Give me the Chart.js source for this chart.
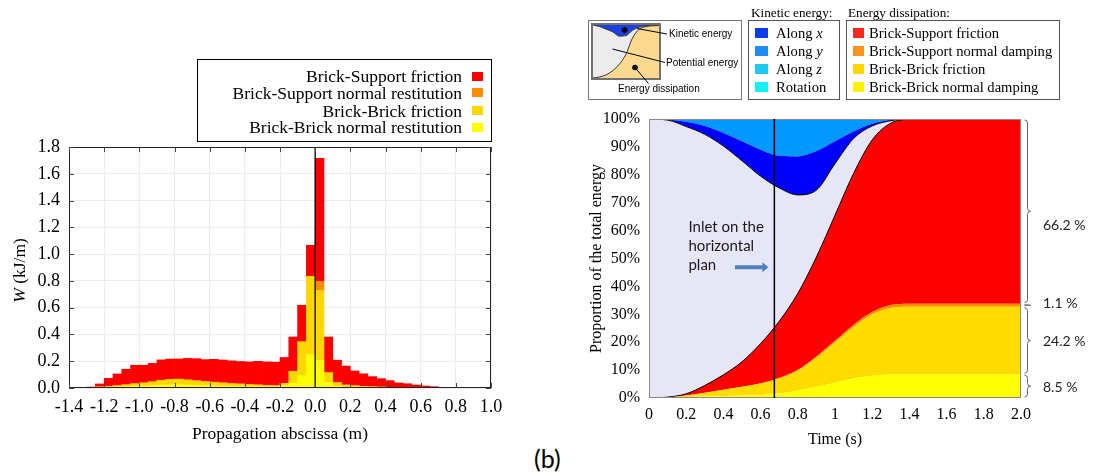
<!DOCTYPE html>
<html><head><meta charset="utf-8">
<script src="https://cdn.jsdelivr.net/npm/chart.js@4.4.1/dist/chart.umd.min.js"></script>
<style>
html,body{margin:0;padding:0;background:#fff;}
body{width:1094px;height:472px;position:relative;overflow:hidden;font-family:"Liberation Serif","Times New Roman",serif;color:#000;}
.a{position:absolute;white-space:nowrap;}
.box{position:absolute;box-sizing:border-box;}
.sw{position:absolute;}
</style></head><body>
<canvas id="c1" width="520" height="320" style="position:absolute;left:0;top:130px;width:520px;height:320px"></canvas>
<canvas id="c2" width="519" height="350" style="position:absolute;left:575px;top:105px;width:519px;height:350px"></canvas>

<div id="leg1" class="box" style="left:197px;top:59px;width:295px;height:83px;border:1px solid #000;"></div>

<div class="box" style="left:588px;top:20px;width:154px;height:80px;border:1px solid #777;"></div>
<div style="position:absolute;left:591px;top:23px;width:66px;height:53px;border:2px solid #707070;">
  <canvas id="c3" width="66" height="53" style="display:block;width:66px;height:53px"></canvas>
</div>
<svg width="1094" height="110" style="position:absolute;left:0;top:0;pointer-events:none">
  <circle cx="624.5" cy="30" r="2.8" fill="#000"/>
  <line x1="637" y1="28.5" x2="667" y2="34" stroke="#000" stroke-width="1"/>
  <line x1="612.5" y1="49" x2="665" y2="62.5" stroke="#000" stroke-width="1"/>
  <circle cx="635" cy="67.5" r="2.8" fill="#000"/>
  <line x1="635" y1="67.5" x2="648.5" y2="83.5" stroke="#000" stroke-width="1"/>
</svg>
<div class="a" style="left:669px;top:27px;font:10px 'Liberation Sans',Arial,sans-serif;line-height:14px;">Kinetic energy</div>
<div class="a" style="left:666px;top:56px;font:10px 'Liberation Sans',Arial,sans-serif;line-height:14px;">Potential energy</div>
<div class="a" style="left:618px;top:82px;font:10px 'Liberation Sans',Arial,sans-serif;line-height:14px;">Energy dissipation</div>

<div class="a" style="left:751px;top:5px;font-size:13.2px;line-height:16px;">Kinetic energy:</div>
<div id="leg2" class="box" style="left:748px;top:20px;width:92px;height:80px;border:1px solid #555;"></div>
<div class="a" style="left:848px;top:5px;font-size:13.2px;line-height:16px;">Energy dissipation:</div>
<div id="leg3" class="box" style="left:846px;top:20px;width:214px;height:80px;border:1px solid #555;"></div>

<div class="a" style="left:534px;top:442px;font:25px Lato,'Open Sans',sans-serif;line-height:32px;">(b)</div>

<script>
// ---------------- Left chart data (W per 0.05 m bin) ----------------
const binCenters = [-1.375,-1.325,-1.275,-1.225,-1.175,-1.125,-1.075,-1.025,-0.975,-0.925,-0.875,-0.825,
  -0.775,-0.725,-0.675,-0.625,-0.575,-0.525,-0.475,-0.425,-0.375,-0.325,-0.275,-0.225,
  -0.175,-0.125,-0.075,-0.025,0.025,0.075,0.125,0.175,0.225,0.275,0.325,0.375,
  0.425,0.475,0.525,0.575,0.625,0.675,0.725,0.775,0.825,0.875,0.925,0.975];
const bbNormalRest = [0,0,0.001,0.003,0.005,0.007,0.010,0.013,0.015,0.018,0.022,0.025,
  0.025,0.023,0.020,0.018,0.016,0.014,0.012,0.011,0.010,0.009,0.008,0.008,
  0.017,0.037,0.092,0.249,0.207,0.042,0.012,0.007,0.005,0.004,0.003,0.002,
  0.002,0.001,0.001,0.001,0,0,0,0,0,0,0,0];
const bbFriction = [0,0,0.002,0.005,0.007,0.011,0.014,0.019,0.023,0.028,0.036,0.040,
  0.041,0.037,0.034,0.030,0.027,0.024,0.021,0.019,0.016,0.014,0.012,0.010,
  0.018,0.088,0.253,0.585,0.523,0.073,0.028,0.015,0.012,0.008,0.006,0.005,
  0.003,0.003,0.002,0.001,0.001,0.001,0,0,0,0,0,0];
const bsNormalRest = [0,0,0,0,0,0,0,0,0,0,0,0,
  0,0,0,0,0,0,0,0,0,0,0,0,
  0,0,0,0,0.067,0,0,0,0,0,0,0,
  0,0,0,0,0,0,0,0,0,0,0,0];
const bsFriction = [0,0,0.004,0.022,0.060,0.087,0.116,0.138,0.132,0.138,0.152,0.151,
  0.151,0.161,0.165,0.164,0.171,0.171,0.170,0.168,0.169,0.176,0.175,0.175,
  0.193,0.256,0.273,0.232,0.919,0.266,0.168,0.142,0.110,0.094,0.076,0.063,
  0.050,0.034,0.029,0.020,0.014,0.009,0.005,0.002,0,0,0,0];
const leftNames = ['Brick-Support friction','Brick-Support normal restitution','Brick-Brick friction','Brick-Brick normal restitution'];
const leftColors = ['#FF0000','#FF8C00','#FFD700','#FFFF00'];
const xTickLabels = ['-1.4','-1.2','-1.0','-0.8','-0.6','-0.4','-0.2','0.0','0.2','0.4','0.6','0.8','1.0'];
const yTickLabels = ['0.0','0.2','0.4','0.6','0.8','1.0','1.2','1.4','1.6','1.8'];

// ---------------- Right chart data (% of total energy) ----------------
const timeS = [0,0.1,0.2,0.3,0.4,0.5,0.6,0.7,0.8,0.9,1.0,1.1,1.2,1.3,1.4,1.5,1.75,2.0];
const eBBNormal   = [0,0.05,0.25,0.5,0.7,0.9,1.1,1.6,2.7,4.0,5.5,7.0,8.0,8.4,8.5,8.5,8.5,8.5];
const eBBFriction = [0,0.15,0.65,1.4,2.3,3.1,4.1,5.4,7.1,10.5,14.5,18.5,22.0,23.9,24.2,24.2,24.2,24.2];
const eBSNormal   = [0,0,0,0,0,0,0.1,0.2,0.3,0.4,0.5,0.7,0.8,1.0,1.1,1.1,1.1,1.1];
const eBSFriction = [0,0.1,0.6,2.6,5.3,9.0,14.2,20.3,27.4,35.6,45.0,54.3,61.7,65.2,66.1,66.2,66.2,66.2];
const ePotential  = [100,99.3,95.8,90.0,82.0,72.0,60.0,47.8,35.3,24.0,18.5,12.5,5.0,0.9,0.1,0,0,0];
const eAlongX     = [0,0.2,1.7,3.0,4.7,7.0,9.5,11.5,13.8,14.0,8.0,2.5,0.8,0.2,0,0,0,0];
const eAlongY     = [0,0.2,1.0,2.5,5.0,8.0,11.0,13.2,13.4,11.5,8.0,4.5,1.7,0.4,0,0,0,0];
const eAlongZ     = [0,0,0,0,0,0,0,0,0,0,0,0,0,0,0,0,0,0];
const eRotation   = [0,0,0,0,0,0,0,0,0,0,0,0,0,0,0,0,0,0];
const tTickLabels = ['0','0.2','0.4','0.6','0.8','1','1.2','1.4','1.6','1.8','2.0'];
const pTickLabels = ['0%','10%','20%','30%','40%','50%','60%','70%','80%','90%','100%'];
const kinNames = ['Along x','Along y','Along z','Rotation'];
const kinLegendColors = ['#0C3CEB','#1E8FF0','#1EC8F0','#14F0F0'];
const dissNames = ['Brick-Support friction','Brick-Support normal damping','Brick-Brick friction','Brick-Brick normal damping'];
const dissLegendColors = ['#F42A1C','#F7931E','#FFD500','#FFF200'];
const inletTime = 0.674;
const braceTops = [100,33.8,32.7,8.5];
const braceBottoms = [33.8,32.7,8.5,0];
const braceLabels = ['66.2 %','1.1 %','24.2 %','8.5 %'];
const braceLabelLevels = [62.0,33.8,20.2,3.7];
const inletLines = ['Inlet on the','horizontal','plan'];
const inletTextTime = 0.212;
const inletTextLevels = [61.4,54.6,47.5];
const arrowFrom = 0.462, arrowTo = 0.642, arrowLevel = 46.9;

// ---------------- Inset schematic ----------------
const insetX = [0,0.1,0.2,0.3,0.4,0.5,0.6,0.7,0.8,0.9,1.0];
const insetDiss = [0,0.02,0.06,0.14,0.26,0.45,0.76,0.92,0.97,0.985,0.99];
const insetPot  = [1,0.95,0.86,0.73,0.53,0.35,0.14,0.04,0.01,0.005,0];
const insetKin  = [0,0.03,0.08,0.13,0.21,0.20,0.10,0.04,0.02,0.01,0.01];

// ---------------- HTML legends ----------------
(function(){
  const l1 = document.getElementById('leg1');
  const rows = [16.7,33.3,51,67.7];
  leftNames.forEach((n,i)=>{
    const t = document.createElement('div');
    t.className='a'; t.textContent=n;
    t.style.cssText += `right:29px;top:${rows[i]-10.5}px;font-size:17.5px;line-height:21px;`;
    l1.appendChild(t);
    const s = document.createElement('div');
    s.className='sw'; s.style.cssText=`left:274px;top:${rows[i]-5}px;width:11px;height:9px;background:${leftColors[i]};`;
    l1.appendChild(s);
  });
  const rows2 = [12,30,47.5,65.5];
  const l2 = document.getElementById('leg2');
  kinNames.forEach((n,i)=>{
    const t = document.createElement('div');
    t.className='a';
    if (n.startsWith('Along ')) t.innerHTML = 'Along <i>'+n.slice(6)+'</i>'; else t.textContent = n;
    t.style.cssText += `left:27px;top:${rows2[i]-9}px;font-size:14.6px;line-height:18px;`;
    l2.appendChild(t);
    const s = document.createElement('div');
    s.className='sw'; s.style.cssText=`left:6px;top:${rows2[i]-5}px;width:13px;height:10px;background:${kinLegendColors[i]};`;
    l2.appendChild(s);
  });
  const l3 = document.getElementById('leg3');
  dissNames.forEach((n,i)=>{
    const t = document.createElement('div');
    t.className='a'; t.textContent=n;
    t.style.cssText += `left:22px;top:${rows2[i]-9}px;font-size:14.6px;line-height:18px;`;
    l3.appendChild(t);
    const s = document.createElement('div');
    s.className='sw'; s.style.cssText=`left:6px;top:${rows2[i]-5}px;width:11px;height:10px;background:${dissLegendColors[i]};`;
    l3.appendChild(s);
  });
})();

// ---------------- Left chart ----------------
const pts = arr => arr.map((v,i)=>({x: binCenters[i], y: v}));
const leftDecor = {
  id:'leftDecor',
  afterDatasetsDraw(chart){
    const {ctx, chartArea:ca, scales:{x,y}} = chart;
    ctx.save();
    const x0 = x.getPixelForValue(0);
    ctx.strokeStyle='#000'; ctx.lineWidth=1.3;
    ctx.beginPath(); ctx.moveTo(x0, ca.top); ctx.lineTo(x0, ca.bottom); ctx.stroke();
    ctx.strokeStyle='#222'; ctx.lineWidth=1;
    ctx.strokeRect(ca.left+0.5, ca.top+0.5, ca.right-ca.left-1, ca.bottom-ca.top-1);
    ctx.strokeStyle='#444';
    ctx.beginPath();
    x.ticks.forEach(t=>{ const p=Math.round(x.getPixelForValue(t.value))+0.5;
      ctx.moveTo(p, ca.bottom); ctx.lineTo(p, ca.bottom-5); ctx.moveTo(p, ca.top); ctx.lineTo(p, ca.top+5); });
    y.ticks.forEach(t=>{ const p=Math.round(y.getPixelForValue(t.value))+0.5;
      ctx.moveTo(ca.left, p); ctx.lineTo(ca.left+5, p); ctx.moveTo(ca.right, p); ctx.lineTo(ca.right-5, p); });
    ctx.stroke();
    const cy = (ca.top+ca.bottom)/2 + 3;
    ctx.translate(20, cy); ctx.rotate(-Math.PI/2);
    ctx.fillStyle='#000'; ctx.textBaseline='middle'; ctx.textAlign='left';
    const f1='italic 17.5px "Liberation Serif"', f2='17.5px "Liberation Serif"';
    ctx.font=f1; const w1=ctx.measureText('W').width;
    ctx.font=f2; const w2=ctx.measureText(' (kJ/m)').width;
    const sx = -(w1+w2)/2;
    ctx.font=f1; ctx.fillText('W', sx, 0);
    ctx.font=f2; ctx.fillText(' (kJ/m)', sx+w1, 0);
    ctx.restore();
  }
};
new Chart(document.getElementById('c1'), {
  type:'bar',
  data:{datasets:[
    {label:leftNames[3], data:pts(bbNormalRest), backgroundColor:leftColors[3]},
    {label:leftNames[2], data:pts(bbFriction), backgroundColor:leftColors[2]},
    {label:leftNames[1], data:pts(bsNormalRest), backgroundColor:leftColors[1]},
    {label:leftNames[0], data:pts(bsFriction), backgroundColor:leftColors[0]}
  ]},
  options:{
    responsive:false, animation:false, devicePixelRatio:1,
    layout:{padding:{left:0,right:29,top:17,bottom:0}},
    plugins:{legend:{display:false}, tooltip:{enabled:false}},
    datasets:{bar:{barPercentage:1, categoryPercentage:1, borderWidth:0}},
    scales:{
      x:{type:'linear', min:-1.4, max:1.0, offset:false, stacked:true,
        grid:{color:'#ececec', drawTicks:false, offset:false}, border:{display:false},
        ticks:{stepSize:0.2, padding:8, color:'#000', font:{family:'Liberation Serif', size:18}, maxRotation:0, autoSkip:false,
          callback:(v,i)=>xTickLabels[i]},
        title:{display:true, text:'Propagation abscissa (m)', color:'#000', font:{family:'Liberation Serif', size:17.5}, padding:{top:0,bottom:5}},
        afterFit:s=>{s.height=62;}},
      y:{min:0, max:1.8, stacked:true,
        grid:{color:'#ececec', drawTicks:false}, border:{display:false},
        ticks:{stepSize:0.2, padding:9, color:'#000', font:{family:'Liberation Serif', size:18}, callback:(v,i)=>yTickLabels[i]},
        afterFit:s=>{s.width=69; s.paddingTop=0; s.paddingBottom=0;}}
    }
  },
  plugins:[leftDecor]
});

// ---------------- Right chart ----------------
const tp = arr => arr.map((v,i)=>({x: timeS[i], y: v}));
function brace(ctx, x0, y1, y2, w){
  const xm = x0 + w/2, xt = x0 + w, mid = (y1+y2)/2;
  const r = Math.max(0.5, Math.min(3, (y2-y1)/4));
  ctx.beginPath();
  ctx.moveTo(x0, y1);
  ctx.quadraticCurveTo(xm, y1, xm, y1+r);
  ctx.lineTo(xm, mid-r);
  ctx.quadraticCurveTo(xm, mid, xt, mid);
  ctx.quadraticCurveTo(xm, mid, xm, mid+r);
  ctx.lineTo(xm, y2-r);
  ctx.quadraticCurveTo(xm, y2, x0, y2);
  ctx.stroke();
}
const rightDecor = {
  id:'rightDecor',
  afterDatasetsDraw(chart){
    const {ctx, chartArea:ca, scales:{x,y}} = chart;
    ctx.save();
    ctx.strokeStyle='#8a8a8a'; ctx.lineWidth=1;
    ctx.strokeRect(ca.left+0.5, ca.top+0.5, ca.right-ca.left-1, ca.bottom-ca.top-1);
    const xv = x.getPixelForValue(inletTime);
    ctx.strokeStyle='#000'; ctx.lineWidth=1.5;
    ctx.beginPath(); ctx.moveTo(xv, ca.top); ctx.lineTo(xv, ca.bottom); ctx.stroke();
    const ax0=x.getPixelForValue(arrowFrom), ax1=x.getPixelForValue(arrowTo), ay=y.getPixelForValue(arrowLevel);
    ctx.fillStyle='#4F81BD';
    ctx.beginPath(); ctx.moveTo(ax0, ay-2); ctx.lineTo(ax1-6, ay-2); ctx.lineTo(ax1-6, ay-5); ctx.lineTo(ax1, ay);
    ctx.lineTo(ax1-6, ay+5); ctx.lineTo(ax1-6, ay+2); ctx.lineTo(ax0, ay+2); ctx.closePath(); ctx.fill();
    ctx.fillStyle='#1a1a1a'; ctx.font='15px Lato'; ctx.textBaseline='middle'; ctx.textAlign='left';
    inletLines.forEach((s,i)=>ctx.fillText(s, x.getPixelForValue(inletTextTime), y.getPixelForValue(inletTextLevels[i])));
    ctx.strokeStyle='#666'; ctx.lineWidth=1;
    braceTops.forEach((tv,i)=>{
      brace(ctx, ca.right+3.5, y.getPixelForValue(tv)+1, y.getPixelForValue(braceBottoms[i])-1, 6);
    });
    ctx.fillStyle='#222'; ctx.font='14px Lato';
    braceLabels.forEach((s,i)=>ctx.fillText(s, ca.right+22, y.getPixelForValue(braceLabelLevels[i])));
    ctx.restore();
  }
};
const mkLine = (label, arr, color, fill, border) => ({
  label, data:tp(arr), backgroundColor:color, fill,
  borderColor: border ? '#000' : 'rgba(0,0,0,0)', borderWidth: border ? 1 : 0,
  pointRadius:0, cubicInterpolationMode:'monotone', tension:0.4
});
new Chart(document.getElementById('c2'), {
  type:'line',
  data:{datasets:[
    mkLine(dissNames[3], eBBNormal, '#FFFF00', 'origin', false),
    mkLine(dissNames[2], eBBFriction, '#FFDC00', '-1', false),
    mkLine(dissNames[1], eBSNormal, '#FF8C00', '-1', false),
    mkLine(dissNames[0], eBSFriction, '#FF0000', '-1', true),
    mkLine('Potential energy', ePotential, '#E6E6F7', '-1', true),
    mkLine(kinNames[0], eAlongX, '#0000FF', '-1', false),
    mkLine(kinNames[1], eAlongY, '#0099FF', '-1', false),
    mkLine(kinNames[2], eAlongZ, '#1EC8F0', '-1', false),
    mkLine(kinNames[3], eRotation, '#14F0F0', '-1', false)
  ]},
  options:{
    responsive:false, animation:false, devicePixelRatio:1,
    layout:{padding:{left:0,right:73,top:14,bottom:0}},
    plugins:{legend:{display:false}, tooltip:{enabled:false}},
    scales:{
      x:{type:'linear', min:0, max:2, grid:{display:false, drawTicks:false}, border:{display:false},
        ticks:{stepSize:0.2, padding:7, color:'#000', font:{family:'Liberation Serif', size:16}, maxRotation:0, autoSkip:false,
          callback:(v,i)=>tTickLabels[i]},
        title:{display:true, text:'Time (s)', color:'#000', font:{family:'Liberation Serif', size:16}, padding:{top:0,bottom:6}},
        afterFit:s=>{s.height=57;}},
      y:{stacked:true, min:0, max:100, grid:{display:false, drawTicks:false}, border:{display:false},
        ticks:{stepSize:10, padding:9, color:'#000', font:{family:'Liberation Serif', size:16}, callback:(v,i)=>pTickLabels[i]},
        title:{display:true, text:'Proportion of the total energy', color:'#000', font:{family:'Liberation Serif', size:16}, padding:{top:12,bottom:0}},
        afterFit:s=>{s.width=74; s.paddingTop=0; s.paddingBottom=0;}}
    }
  },
  plugins:[rightDecor]
});

// ---------------- Inset schematic chart ----------------
const ip = arr => arr.map((v,i)=>({x: insetX[i], y: v}));
new Chart(document.getElementById('c3'), {
  type:'line',
  data:{datasets:[
    {data:ip(insetDiss), backgroundColor:'#FCD98E', fill:'origin', borderColor:'#333', borderWidth:1, pointRadius:0, cubicInterpolationMode:'monotone'},
    {data:ip(insetPot), backgroundColor:'#ECECEC', fill:'-1', borderColor:'#333', borderWidth:1, pointRadius:0, cubicInterpolationMode:'monotone'},
    {data:ip(insetKin), backgroundColor:'#1B3FE0', fill:'-1', borderColor:'rgba(0,0,0,0)', borderWidth:0, pointRadius:0, cubicInterpolationMode:'monotone'}
  ]},
  options:{
    responsive:false, animation:false, devicePixelRatio:1,
    layout:{padding:0},
    plugins:{legend:{display:false}, tooltip:{enabled:false}},
    scales:{x:{type:'linear', min:0, max:1, display:false}, y:{stacked:true, min:0, max:1, display:false}}
  }
});
</script>
</body></html>
